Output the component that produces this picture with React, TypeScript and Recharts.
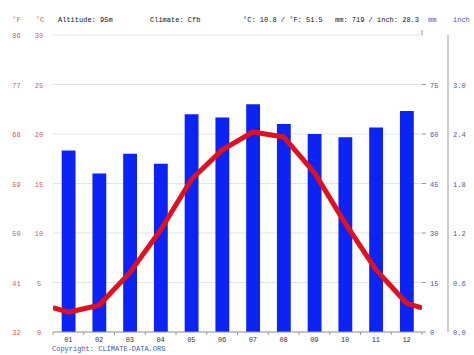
import React from "react";
import { ComposedChart, Bar, Line, XAxis, YAxis, CartesianGrid } from "recharts";

const months = ["01", "02", "03", "04", "05", "06", "07", "08", "09", "10", "11", "12"];
const precipitationMm = [55, 48, 54, 51, 66, 65, 69, 63, 60, 59, 62, 67];
const temperatureC = [2.0, 2.7, 6.0, 10.3, 15.4, 18.4, 20.2, 19.7, 16.1, 11.0, 6.3, 2.9];

const celsiusTicks = [0, 5, 10, 15, 20, 25, 30];
const fahrenheitTicks = [32, 41, 50, 59, 68, 77, 86];
const mmTicks = [0, 15, 30, 45, 60, 75];
const inchTicks = [0, 0.6, 1.2, 1.8, 2.4, 3.0];

const headerTexts = ["Altitude: 95m", "Climate: Cfb", "°C: 10.8 / °F: 51.5", "mm: 719 / inch: 28.3"];

// wrap-around edge value (Dec/Jan) so the line reaches the plot edges like the original
const edgeTemp = (temperatureC[0] + temperatureC[11]) / 2;

const data = [
  { x: 0.5, temp: edgeTemp },
  ...months.map((m, i) => ({ x: i + 1, label: m, mm: precipitationMm[i], temp: temperatureC[i] })),
  { x: 12.5, temp: edgeTemp },
];

const xTicks: number[] = [];
for (let i = 0; i <= 24; i++) xTicks.push(0.5 + i * 0.5);

const FONT = "Liberation Mono";
const FS = 7;
const RED_TXT = "#d25a5a";
const BLUE_TXT = "#4a55b5";
const AXIS = "#9a9a9a";

const txtStyle = { fontFamily: FONT, fontSize: FS } as React.CSSProperties;

const XTick = (props: any) => {
  const { x, y, payload } = props;
  const v = payload.value as number;
  if (Number.isInteger(v)) {
    return (
      <text x={x} y={y + 2} textAnchor="middle" style={txtStyle} fill="#333">
        {months[v - 1]}
      </text>
    );
  }
  return <line x1={x} x2={x} y1={y - 8} y2={y - 5} stroke={AXIS} strokeWidth={1} />;
};

const CTick = (props: any) => {
  const { y, payload } = props;
  return (
    <text x={39} y={y + 3} textAnchor="middle" style={txtStyle} fill={RED_TXT}>
      {payload.value}
    </text>
  );
};
const FTick = (props: any) => {
  const { y, payload } = props;
  return (
    <text x={16.5} y={y + 3} textAnchor="middle" style={txtStyle} fill={RED_TXT}>
      {payload.value}
    </text>
  );
};
const MmTick = (props: any) => {
  const { y, payload } = props;
  return (
    <g>
      <line x1={422} x2={426} y1={y} y2={y} stroke={AXIS} />
      <text x={430} y={y + 3} textAnchor="start" style={txtStyle} fill={BLUE_TXT}>
        {payload.value}
      </text>
    </g>
  );
};
const InchTick = (props: any) => {
  const { y, payload } = props;
  return (
    <text x={453} y={y + 3} textAnchor="start" style={txtStyle} fill={BLUE_TXT}>
      {(payload.value as number).toFixed(1)}
    </text>
  );
};

export default function App() {
  return (
    <div style={{ position: "absolute", left: 0, top: 0, width: 474, height: 355, background: "#fff" }}>
      <ComposedChart
        width={474}
        height={355}
        data={data}
        margin={{ top: 35, right: 0, bottom: 0, left: 0 }}
      >
        <CartesianGrid yAxisId="c" horizontal vertical={false} stroke="#e4e4e4" strokeWidth={1} />
        <XAxis
          dataKey="x"
          type="number"
          domain={[0.5, 12.5]}
          ticks={xTicks}
          interval={0}
          height={23}
          axisLine={{ stroke: AXIS }}
          tickLine={false}
          tick={<XTick />}
          allowDataOverflow
        />
        <YAxis
          yAxisId="f"
          orientation="left"
          domain={[32, 86]}
          ticks={fahrenheitTicks}
          width={30}
          axisLine={false}
          tickLine={false}
          tick={<FTick />}
          allowDataOverflow
        />
        <YAxis
          yAxisId="c"
          orientation="left"
          domain={[0, 30]}
          ticks={celsiusTicks}
          width={23}
          axisLine={false}
          tickLine={false}
          tick={<CTick />}
          allowDataOverflow
        />
        <YAxis
          yAxisId="mm"
          orientation="right"
          domain={[0, 90]}
          ticks={mmTicks}
          width={26}
          axisLine={{ stroke: AXIS }}
          tickLine={false}
          tick={<MmTick />}
          allowDataOverflow
        />
        <YAxis
          yAxisId="inch"
          orientation="right"
          domain={[0, 3.6]}
          ticks={inchTicks}
          width={26}
          axisLine={false}
          tickLine={false}
          tick={<InchTick />}
          allowDataOverflow
        />
        <Bar yAxisId="mm" dataKey="mm" fill="#0b24f5" barSize={16} isAnimationActive={false} />
        <Line
          yAxisId="c"
          dataKey="temp"
          type="linear"
          stroke="#e0101e"
          strokeWidth={5}
          dot={false}
          activeDot={false}
          strokeLinejoin="round"
          isAnimationActive={false}
        />
      </ComposedChart>
      <svg
        width={474}
        height={355}
        style={{ position: "absolute", left: 0, top: 0, pointerEvents: "none" }}
      >
        <line x1={422} x2={422} y1={30} y2={35} stroke={AXIS} />
        <text x={16.5} y={22} textAnchor="middle" style={txtStyle} fill={RED_TXT}>°F</text>
        <text x={40} y={22} textAnchor="middle" style={txtStyle} fill={RED_TXT}>°C</text>
        <text x={58} y={22} style={txtStyle} fill="#111">{headerTexts[0]}</text>
        <text x={150} y={22} style={txtStyle} fill="#111">{headerTexts[1]}</text>
        <text x={243} y={22} style={txtStyle} fill="#111">{headerTexts[2]}</text>
        <text x={335} y={22} style={txtStyle} fill="#111">{headerTexts[3]}</text>
        <text x={428} y={22} style={txtStyle} fill={BLUE_TXT}>mm</text>
        <text x={453} y={22} style={txtStyle} fill={BLUE_TXT}>inch</text>
        <text x={52} y={351} style={txtStyle} fill="#3a5ab0">Copyright: CLIMATE-DATA.ORG</text>
      </svg>
    </div>
  );
}
